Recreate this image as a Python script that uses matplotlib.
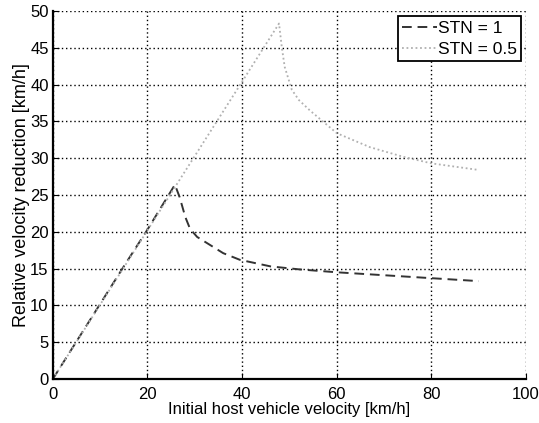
import numpy as np
import matplotlib.pyplot as plt

plt.rcParams['font.family'] = ['Liberation Sans', 'DejaVu Sans']

# STN = 1
v1 = [0, 5, 10, 15, 20, 25.8, 26.8, 28, 29, 30.5, 32.5, 36, 39.5, 46, 52, 60, 70, 80, 90]
r1 = [0, 5.1, 10.2, 15.3, 20.3, 26.4, 24.7, 22.0, 20.4, 19.3, 18.5, 17.1, 16.2, 15.3, 14.9, 14.5, 14.1, 13.7, 13.3]

# STN = 0.5
v2 = [0, 10, 20, 30, 40, 47.8, 48.4, 49, 50.5, 52, 54.3, 60, 67, 74, 80, 90]
r2 = [0, 10.1, 20.2, 30.3, 40.4, 48.3, 45.0, 42.4, 39.3, 37.9, 36.5, 33.4, 31.5, 30.2, 29.3, 28.4]

fig = plt.figure(figsize=(5.39, 4.23), dpi=100)
ax = fig.add_axes([0.098, 0.104, 0.878, 0.870])

ax.plot(v1, r1, color='#333333', ls=(0, (5, 3)), lw=1.4, label='STN = 1')
ax.plot(v2, r2, color='#b0b0b0', ls=(0, (1, 1.5)), lw=1.3, label='STN = 0.5')

ax.set_xlim(0, 100)
ax.set_ylim(0, 50)
ax.set_xticks(np.arange(0, 101, 20))
ax.set_yticks(np.arange(0, 51, 5))
ax.grid(True, color='black', ls=(0, (1, 2)), lw=1.0)
for s in ['top', 'right']:
    ax.spines[s].set_visible(False)
for s in ['left', 'bottom']:
    ax.spines[s].set_linewidth(1.6)
ax.tick_params(direction='in', labelsize=12, length=4, pad=3)
ax.tick_params(axis='x', pad=6)

ax.set_xlabel('Initial host vehicle velocity [km/h]', fontsize=12, labelpad=0)
ax.set_ylabel('Relative velocity reduction [km/h]', fontsize=13, labelpad=0)

leg = ax.legend(loc='upper right', fontsize=12.5, fancybox=False, framealpha=1,
                edgecolor='black', handlelength=2.0, handletextpad=0.05,
                borderaxespad=0.3, labelspacing=0.35, borderpad=0.25)
leg.get_frame().set_linewidth(1.3)

fig.savefig('out.png', dpi=100)
